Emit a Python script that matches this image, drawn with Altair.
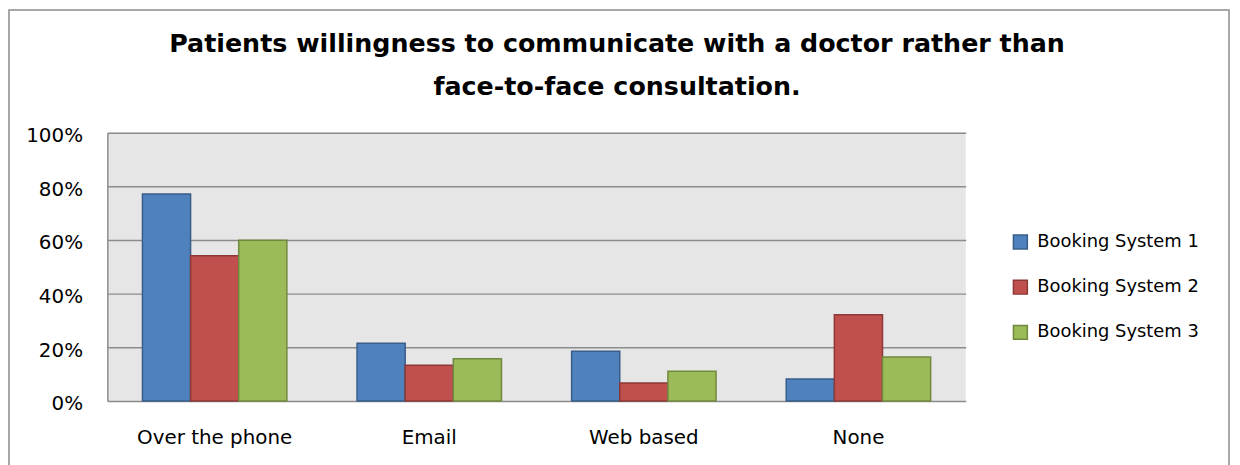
import altair as alt
import pandas as pd

categories = ["Over the phone", "Email", "Web based", "None"]
series = ["Booking System 1", "Booking System 2", "Booking System 3"]
bs1 = [0.771, 0.215, 0.185, 0.082]
bs2 = [0.541, 0.133, 0.067, 0.321]
bs3 = [0.599, 0.157, 0.111, 0.164]

fills = ["#4F81BD", "#C0504D", "#9BBB59"]
strokes = ["#385D8A", "#8C3836", "#71893F"]

rows = []
for s, vals in zip(series, [bs1, bs2, bs3]):
    for c, v in zip(categories, vals):
        rows.append({"category": c, "series": s, "value": v})
df = pd.DataFrame(rows)

FONT = "DejaVu Sans"

bars = alt.Chart(df).mark_bar(strokeWidth=1.5).encode(
    x=alt.X("category:N", sort=categories, title=None,
            scale=alt.Scale(paddingInner=0.327, paddingOuter=0.1635),
            axis=alt.Axis(labelAngle=0, labelFontSize=20, labelFont=FONT, labelColor="#000",
                          labelPadding=27, ticks=False, domain=False)),
    xOffset=alt.XOffset("series:N", sort=series, scale=alt.Scale(paddingInner=0, paddingOuter=0)),
    y=alt.Y("value:Q", title=None,
            scale=alt.Scale(domain=[0, 1], nice=False),
            axis=alt.Axis(format=".0%", values=[0, 0.2, 0.4, 0.6, 0.8, 1.0],
                          labelFontSize=20, labelFont=FONT, labelColor="#000",
                          labelPadding=25, labelOffset=3, ticks=False,
                          domain=True, domainColor="#8C8C8C", domainWidth=1.5,
                          gridColor="#8C8C8C", gridWidth=1.5)),
    color=alt.Color("series:N", sort=series, scale=alt.Scale(domain=series, range=fills),
                    legend=alt.Legend(title=None, orient="none", legendX=910, legendY=101,
                                      symbolType="square", symbolSize=196,
                                      symbolStrokeWidth=1.5, padding=0,
                                      labelFontSize=18, labelFont=FONT, labelColor="#000",
                                      labelLimit=400, rowPadding=25.5, labelOffset=8)),
    stroke=alt.Stroke("series:N", sort=series, scale=alt.Scale(domain=series, range=strokes),
                      legend=None),
)

frame = alt.Chart(df).mark_rect(fill=None, stroke="#8C8C8C", strokeWidth=1.5, clip=False).encode(
    x=alt.value(-99), x2=alt.value(1129), y=alt.value(-123.5), y2=alt.value(400)
).transform_filter("datum.series == 'Booking System 1' && datum.category == 'Email'")

chart = alt.layer(frame, bars).properties(
    width=864, height=270,
    background="white",
    autosize=alt.AutoSizeParams(type="none"),
    padding={"left": 100, "top": 124, "right": 268, "bottom": 63},
    title=alt.Title(["Patients  willingness to communicate with a doctor rather than",
                     "face-to-face consultation."],
                    font=FONT, fontSize=25.5, fontWeight="bold", color="#000",
                    anchor="middle", frame="group", baseline="alphabetic",
                    lineHeight=43, offset=0, dx=81, dy=112),
).configure_view(fill="#E6E6E6", strokeWidth=0)

chart.save("out.html", embed_options={"renderer": "svg", "actions": False})
